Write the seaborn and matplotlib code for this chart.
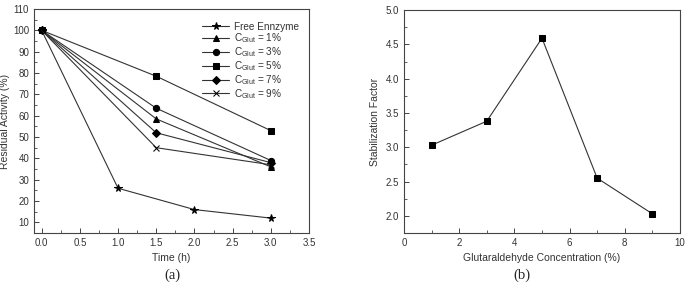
import numpy as np
import pandas as pd
import matplotlib.pyplot as plt
import seaborn as sns
from matplotlib.ticker import MultipleLocator, AutoMinorLocator

# (a) 残存活性
time_free = [0, 1.0, 2.0, 3.0]
act_free = [100, 26, 16, 12]
time_glut = [0, 1.5, 3.0]
act_1 = [100, 58.5, 36]
act_3 = [100, 63.5, 39]
act_5 = [100, 78.5, 53]
act_7 = [100, 52, 38]
act_9 = [100, 45, 37]
labels = ["Free Ennzyme",
          r"C$_{\mathrm{Glut}}$ = 1%", r"C$_{\mathrm{Glut}}$ = 3%",
          r"C$_{\mathrm{Glut}}$ = 5%", r"C$_{\mathrm{Glut}}$ = 7%",
          r"C$_{\mathrm{Glut}}$ = 9%"]

# (b) 安定化係数
conc = [1, 3, 5, 7, 9]
stab = [3.03, 3.38, 4.59, 2.55, 2.03]

sns.set_style("ticks")
plt.rcParams['font.family'] = ['Liberation Sans', 'DejaVu Sans']
plt.rcParams['mathtext.fontset'] = 'custom'
plt.rcParams['mathtext.rm'] = 'Liberation Sans'
plt.rcParams['xtick.direction'] = 'in'
plt.rcParams['ytick.direction'] = 'in'

fig = plt.figure(figsize=(6.87, 2.87), dpi=100)
ax1 = fig.add_axes([0.0495, 0.188, 0.4003, 0.7806])
ax2 = fig.add_axes([0.588, 0.188, 0.4018, 0.777])

lc = "#333333"
series = [(time_free, act_free, "*", 5.5),
          (time_glut, act_1, "^", 4.5),
          (time_glut, act_3, "o", 4.5),
          (time_glut, act_5, "s", 4),
          (time_glut, act_7, "D", 4),
          (time_glut, act_9, "x", 5)]
for (t, a, m, ms), lab in zip(series, labels):
    sns.lineplot(x=t, y=a, ax=ax1, color=lc, marker=m, markersize=ms,
                 markeredgecolor="black", markerfacecolor="black",
                 linewidth=0.8, label=lab)

ax1.set_xlim(-0.1, 3.5)
ax1.set_ylim(5, 110)
ax1.xaxis.set_major_locator(MultipleLocator(0.5))
ax1.xaxis.set_minor_locator(AutoMinorLocator(2))
ax1.yaxis.set_major_locator(MultipleLocator(10))
ax1.yaxis.set_minor_locator(AutoMinorLocator(2))
ax1.set_xlabel("Time (h)", fontsize=7.5, color="#333333", labelpad=4)
ax1.set_ylabel("Residual Activity (%)", fontsize=7.5, color="#333333", labelpad=2)
ax1.legend(loc="upper right", bbox_to_anchor=(0.99, 0.975), frameon=False,
           fontsize=7.2, handlelength=2.7, labelspacing=0.0, borderaxespad=0.3,
           handletextpad=0.5, labelcolor="#333333")

sns.lineplot(x=conc, y=stab, ax=ax2, color=lc, marker="s", markersize=4,
             markeredgecolor="black", markerfacecolor="black", linewidth=0.8)
ax2.set_xlim(0, 10)
ax2.set_ylim(1.75, 5.0)
ax2.xaxis.set_major_locator(MultipleLocator(2))
ax2.xaxis.set_minor_locator(AutoMinorLocator(2))
ax2.yaxis.set_major_locator(MultipleLocator(0.5))
ax2.yaxis.set_minor_locator(AutoMinorLocator(2))
ax2.set_xlabel("Glutaraldehyde Concentration (%)", fontsize=7.5, color="#333333", labelpad=4)
ax2.set_ylabel("Stabilization Factor", fontsize=7.5, color="#333333", labelpad=4)

for ax in (ax1, ax2):
    for s in ax.spines.values():
        s.set_visible(True)
        s.set_color("#444444")
        s.set_linewidth(0.8)
    ax.tick_params(which="both", labelsize=7, colors="#444444", labelcolor="#333333",
                   top=False, right=False)
    ax.tick_params(which="major", length=3.5, width=0.7)
    ax.tick_params(which="minor", length=2, width=0.6)

fig.text(0.2504, 0.04, "(a)", ha="center", va="center", fontsize=10.5,
         family=["Liberation Serif", "DejaVu Serif"])
fig.text(0.7598, 0.04, "(b)", ha="center", va="center", fontsize=10.5,
         family=["Liberation Serif", "DejaVu Serif"])

plt.savefig("out.png", dpi=100)
